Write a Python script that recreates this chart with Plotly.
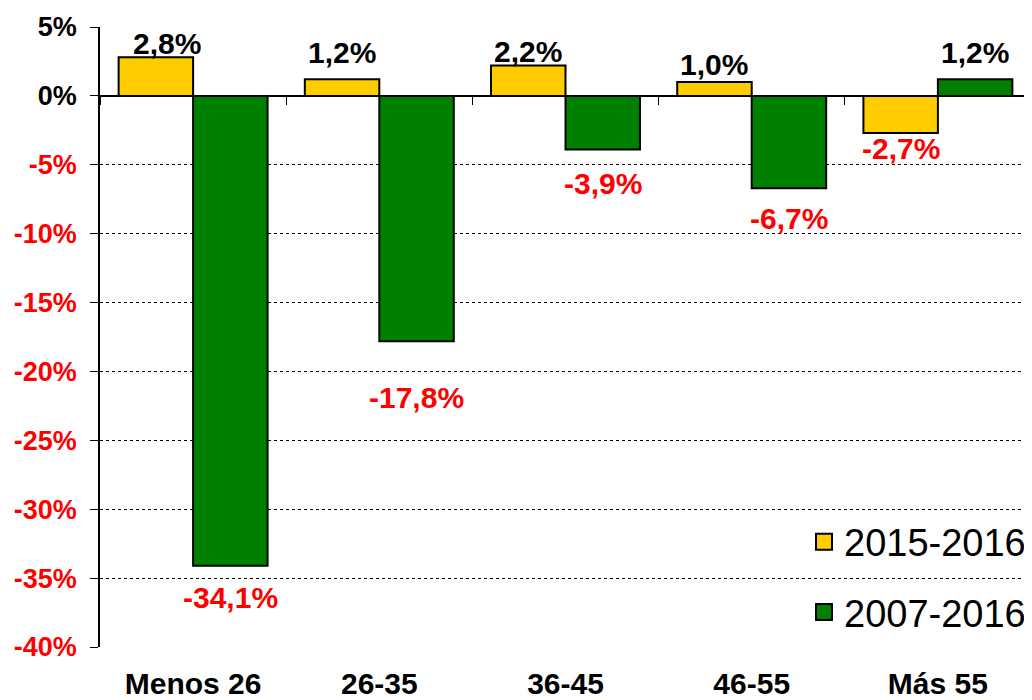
import plotly.graph_objects as go

# ---- data ----
categories = ["Menos 26", "26-35", "36-45", "46-55", "Más 55"]
series_names = ["2015-2016", "2007-2016"]
values_2015_2016 = [2.8, 1.2, 2.2, 1.0, -2.7]
values_2007_2016 = [-34.1, -17.8, -3.9, -6.7, 1.2]
y_tick_values = [5, 0, -5, -10, -15, -20, -25, -30, -35, -40]

# ---- styles ----
colors = {"2015-2016": "#FFCC00", "2007-2016": "#008000"}
FONT = "Liberation Sans, Arial, sans-serif"
POS_COLOR = "black"
NEG_COLOR = "#FF0000"
# vertical distance (px) of label centre from bar end, per series
label_gap = {
    "2015-2016": [14, 27, 14, 18, 15],
    "2007-2016": [32, 56, 34, 30, 27],
}
# small horizontal nudges (px) of labels, per series
label_dx = {
    "2015-2016": [11, 0, 0, 0, 0],
    "2007-2016": [0, 0, 0, 0, 0],
}

series_values = {"2015-2016": values_2015_2016, "2007-2016": values_2007_2016}

def fmt(v):
    return f"{v:.1f}%".replace(".", ",")

fig = go.Figure()
for name in series_names:
    fig.add_trace(go.Bar(
        x=categories, y=series_values[name], name=name,
        marker=dict(color=colors[name], line=dict(color="black", width=2)),
        showlegend=False, hoverinfo="x+y",
    ))
    # legend-only square markers
    fig.add_trace(go.Scatter(
        x=[None], y=[None], mode="markers", name=name,
        legendgroup=name,
        marker=dict(symbol="square", size=16, color=colors[name],
                    line=dict(color="black", width=2)),
        hoverinfo="skip",
    ))

# dummy trace for the boundary tick axis at y=0
fig.add_trace(go.Scatter(x=[None], y=[None], xaxis="x2", showlegend=False,
                         hoverinfo="skip"))

bargap = 0.2
bar_w = (1 - bargap) / len(series_names)
annotations = []
for s_idx, name in enumerate(series_names):
    offset = -((1 - bargap) / 2) + bar_w * (s_idx + 0.5)
    for i, v in enumerate(series_values[name]):
        gap = label_gap[name][i]
        annotations.append(dict(
            x=i + offset, y=v, xref="x", yref="y",
            text=f"<b>{fmt(v)}</b>", showarrow=False,
            yanchor="middle", yshift=gap if v >= 0 else -gap,
            xshift=label_dx[name][i],
            font=dict(family=FONT, size=30,
                      color=POS_COLOR if v >= 0 else NEG_COLOR),
        ))

y_min, y_max = min(y_tick_values), max(y_tick_values)
tick_text = [
    f"<b><span style='color:{POS_COLOR if t >= 0 else NEG_COLOR}'>{t}%</span></b>"
    for t in y_tick_values
]

fig.update_layout(
    width=1024, height=692,
    margin=dict(l=92, r=1, t=19, b=53),
    plot_bgcolor="white", paper_bgcolor="white",
    barmode="group", bargap=bargap, bargroupgap=0,
    font=dict(family=FONT, color="black"),
    annotations=annotations,
    xaxis=dict(
        type="category", categoryorder="array", categoryarray=categories,
        range=[-0.5, len(categories) - 0.5],
        showline=False, showgrid=False, ticks="",
        tickfont=dict(family=FONT, size=30, color="black"),
        ticklabelstandoff=16, automargin=False,
        tickprefix="<b>", ticksuffix="</b>",
    ),
    xaxis2=dict(
        overlaying="x", anchor="free",
        position=(0 - y_min) / (y_max - y_min),
        range=[-0.5, len(categories) - 0.5],
        tickmode="array",
        tickvals=[i - 0.5 for i in range(len(categories) + 1)],
        ticks="outside", ticklen=8, tickwidth=1, tickcolor="black",
        showticklabels=False, showgrid=False, showline=False, zeroline=False,
        automargin=False,
    ),
    yaxis=dict(
        range=[y_min, y_max],
        tickmode="array", tickvals=y_tick_values, ticktext=tick_text,
        tickfont=dict(family=FONT, size=27),
        ticks="outside", ticklen=8, tickcolor="black", tickwidth=1,
        ticklabelstandoff=8, automargin=False,
        showline=True, linecolor="black", linewidth=1.5,
        showgrid=True, gridcolor="black", gridwidth=1, griddash="dot",
        zeroline=True, zerolinecolor="black", zerolinewidth=1.5,
    ),
    legend=dict(
        x=1.0, xanchor="right", y=0.113, yanchor="middle",
        font=dict(family=FONT, size=38, color="black"),
        bgcolor="rgba(0,0,0,0)", tracegroupgap=18,
        traceorder="grouped", itemsizing="trace",
    ),
)

fig.write_html("out.html")
